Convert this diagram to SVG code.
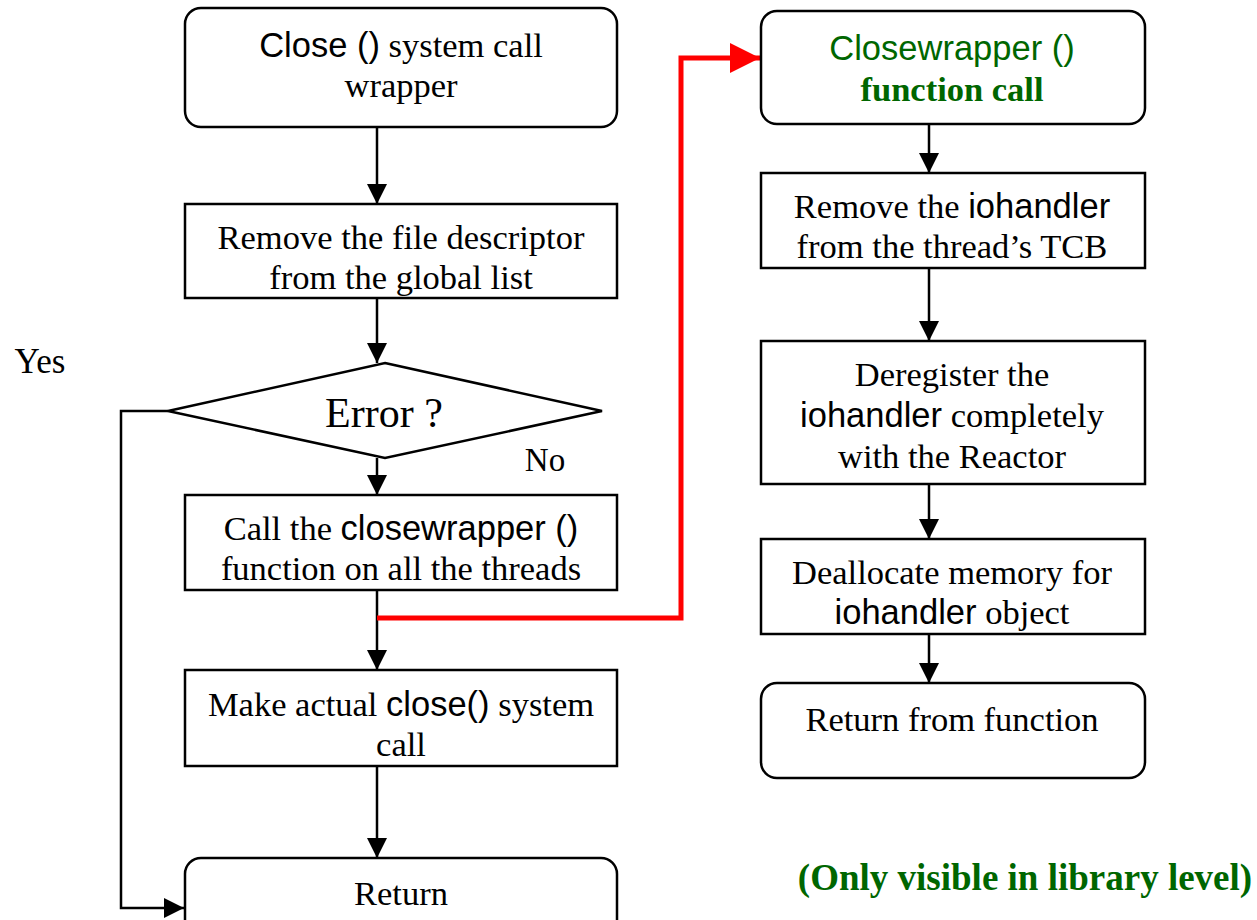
<svg xmlns="http://www.w3.org/2000/svg" width="1257" height="920" viewBox="0 0 1257 920">
  <style>
    .box { fill: #ffffff; stroke: #000000; stroke-width: 2.5; }
    .t { font-family: "Liberation Serif", "Times New Roman", serif; font-size: 34.5px; fill: #000000; text-anchor: middle; }
    .s { font-family: "Liberation Sans", Arial, sans-serif; font-size: 34.5px; }
    .g { fill: #006600; }
    .b { font-weight: bold; }
    .edge { fill: none; stroke: #000000; stroke-width: 2.5; }
    .red { fill: none; stroke: #ff0000; stroke-width: 5; }
  </style>
  <defs>
    <marker id="arrow" markerUnits="userSpaceOnUse" viewBox="0 0 20 20" markerWidth="20" markerHeight="20" refX="20" refY="10" orient="auto">
      <path d="M0,0 L20,10 L0,20 z" fill="#000000"/>
    </marker>
    <marker id="arrowRed" markerUnits="userSpaceOnUse" viewBox="0 0 30 30" markerWidth="30" markerHeight="30" refX="30" refY="15" orient="auto">
      <path d="M0,0 L30,15 L0,30 z" fill="#ff0000"/>
    </marker>
  </defs>
  <rect width="1257" height="920" fill="#ffffff"/>

  <!-- connectors -->
  <g id="connectors">
    <line class="edge" x1="377" y1="127" x2="377" y2="204" marker-end="url(#arrow)"/>
    <line class="edge" x1="377" y1="298" x2="377" y2="363" marker-end="url(#arrow)"/>
    <line class="edge" x1="377" y1="458" x2="377" y2="495" marker-end="url(#arrow)"/>
    <line class="edge" x1="377" y1="590" x2="377" y2="670" marker-end="url(#arrow)"/>
    <line class="edge" x1="377" y1="766" x2="377" y2="858" marker-end="url(#arrow)"/>
    <polyline class="edge" points="168,411 121,411 121,908 184,908" marker-end="url(#arrow)"/>
    <polyline class="red" points="377,618 681,618 681,58 760,58" marker-end="url(#arrowRed)"/>
    <line class="edge" x1="929" y1="124" x2="929" y2="173" marker-end="url(#arrow)"/>
    <line class="edge" x1="929" y1="268" x2="929" y2="341" marker-end="url(#arrow)"/>
    <line class="edge" x1="929" y1="484" x2="929" y2="539" marker-end="url(#arrow)"/>
    <line class="edge" x1="929" y1="634" x2="929" y2="683" marker-end="url(#arrow)"/>
  </g>

  <!-- left column -->
  <g id="wrapper-start">
    <rect class="box" x="185" y="8" width="432" height="119" rx="16"/>
    <text class="t" x="401" y="57"><tspan class="s">Close ()</tspan> system call</text>
    <text class="t" x="401" y="97">wrapper</text>
  </g>
  <g id="remove-fd">
    <rect class="box" x="185" y="204" width="432" height="94"/>
    <text class="t" x="401" y="249">Remove the file descriptor</text>
    <text class="t" x="401" y="289">from the global list</text>
  </g>
  <g id="error-check">
    <polygon class="box" points="385,363 602,411 385,458 168,411"/>
    <text class="t" x="384" y="427" style="font-size:42px">Error ?</text>
    <text class="t" x="545" y="471" style="font-size:33px">No</text>
    <text class="t" x="40" y="373" style="font-size:35px">Yes</text>
  </g>
  <g id="call-closewrapper">
    <rect class="box" x="185" y="495" width="432" height="95"/>
    <text class="t" x="401" y="540">Call the <tspan class="s">closewrapper ()</tspan></text>
    <text class="t" x="401" y="580">function on all the threads</text>
  </g>
  <g id="close-syscall">
    <rect class="box" x="185" y="670" width="432" height="96"/>
    <text class="t" x="401" y="716">Make actual <tspan class="s">close()</tspan> system</text>
    <text class="t" x="401" y="756">call</text>
  </g>
  <g id="return">
    <rect class="box" x="185" y="858" width="432" height="80" rx="16"/>
    <text class="t" x="401" y="905">Return</text>
  </g>

  <!-- right column -->
  <g id="closewrapper-start">
    <rect class="box" x="761" y="11" width="384" height="113" rx="16"/>
    <text class="t g" x="952" y="60"><tspan class="s">Closewrapper ()</tspan></text>
    <text class="t g b" x="952" y="101">function call</text>
  </g>
  <g id="remove-iohandler">
    <rect class="box" x="761" y="173" width="384" height="95"/>
    <text class="t" x="952" y="218">Remove the <tspan class="s">iohandler</tspan></text>
    <text class="t" x="952" y="258">from the thread’s TCB</text>
  </g>
  <g id="deregister">
    <rect class="box" x="761" y="341" width="384" height="143"/>
    <text class="t" x="952" y="386">Deregister the</text>
    <text class="t" x="952" y="427"><tspan class="s">iohandler</tspan> completely</text>
    <text class="t" x="952" y="468">with the Reactor</text>
  </g>
  <g id="deallocate">
    <rect class="box" x="761" y="539" width="384" height="95"/>
    <text class="t" x="952" y="584">Deallocate memory for</text>
    <text class="t" x="952" y="624"><tspan class="s">iohandler</tspan> object</text>
  </g>
  <g id="return-from-function">
    <rect class="box" x="761" y="683" width="384" height="95" rx="16"/>
    <text class="t" x="952" y="731">Return from function</text>
  </g>
  <text class="t g b" x="1025" y="890" style="font-size:37px">(Only visible in library level)</text>
</svg>
